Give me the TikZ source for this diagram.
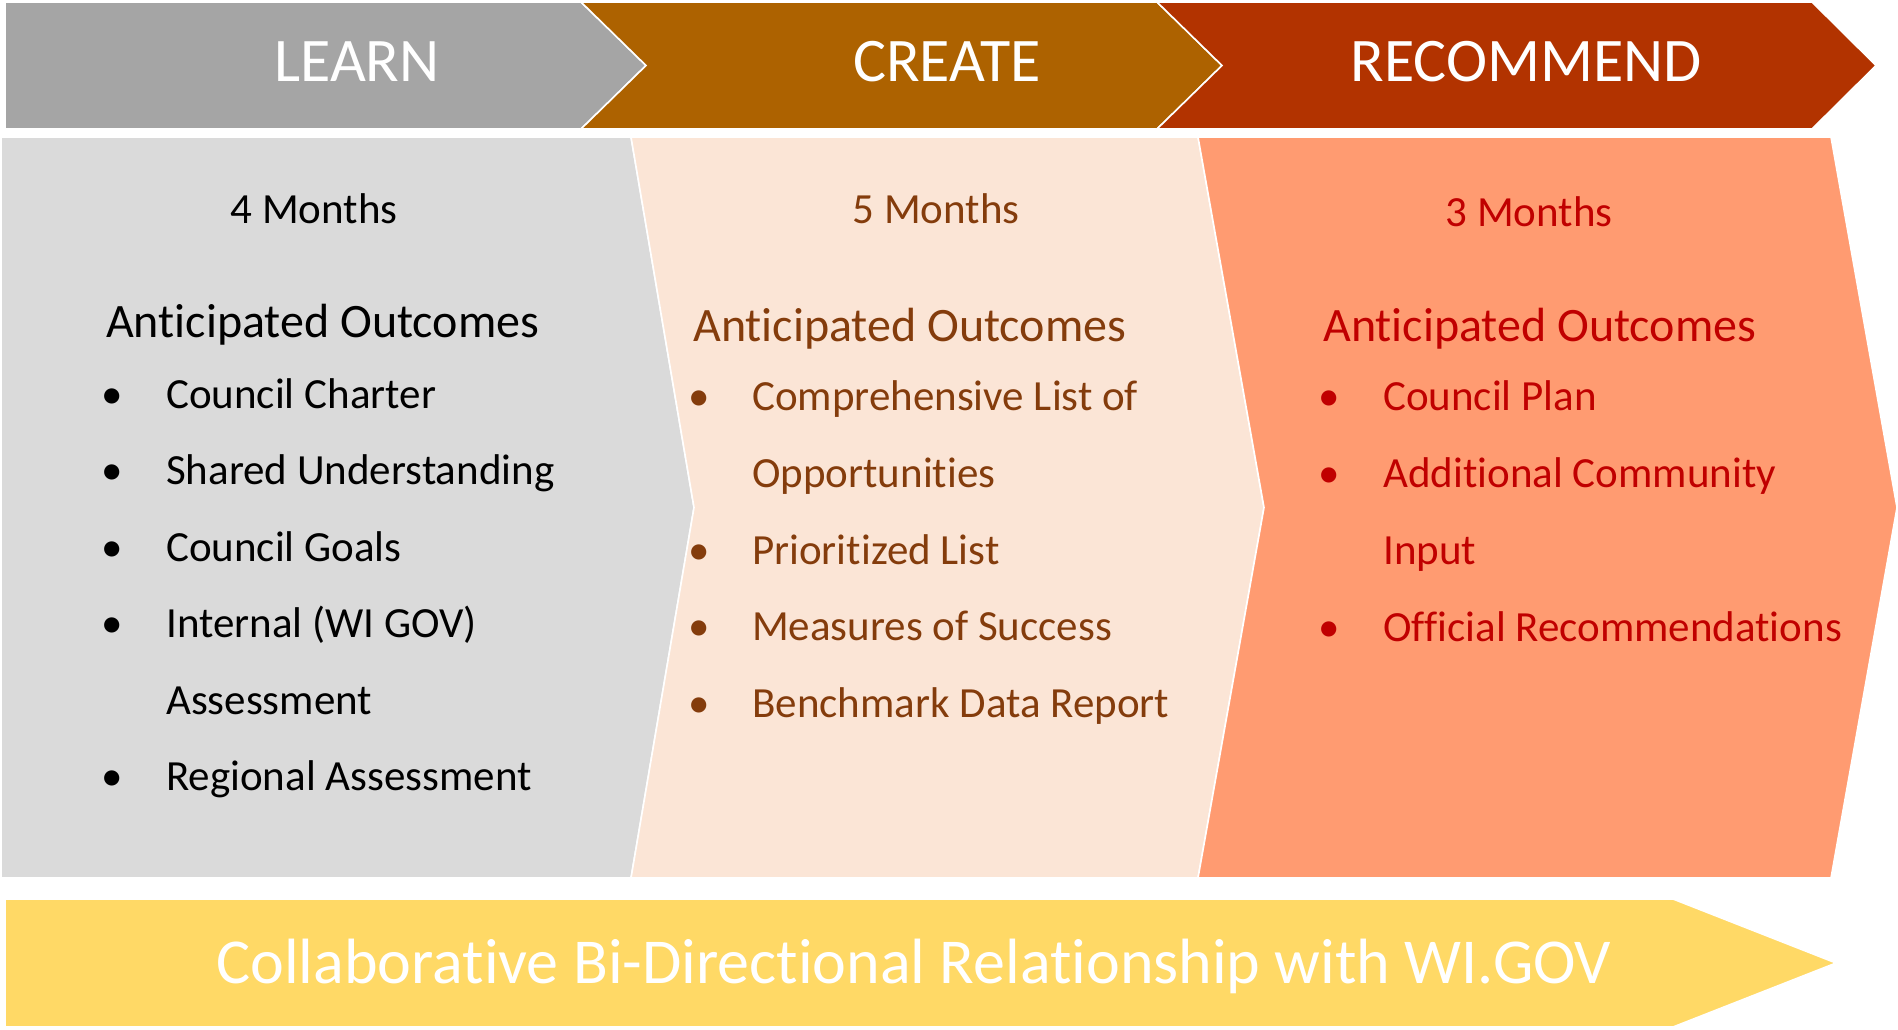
\documentclass[tikz,border=0pt]{standalone}
\usepackage{fontspec}
\setmainfont{Carlito}[RawFeature={-liga;-dlig;-clig}]
\definecolor{learnbar}{HTML}{A5A5A5}
\definecolor{createbar}{HTML}{AD6200}
\definecolor{recbar}{HTML}{B23300}
\definecolor{learnpanel}{HTML}{DADADA}
\definecolor{createpanel}{HTML}{FBE5D6}
\definecolor{recpanel}{HTML}{FF9B71}
\definecolor{goldbar}{HTML}{FFD966}
\definecolor{createtext}{HTML}{843C0C}
\definecolor{rectext}{HTML}{C00000}
\tikzset{
  shapeedge/.style={draw=white, line width=1.6pt, line join=miter},
  bartext/.style={inner sep=0pt, anchor=base, text=white, font=\fontsize{62}{62}\selectfont},
  monthtext/.style={inner sep=0pt, anchor=base, font=\fontsize{43}{43}\selectfont},
  headtext/.style={inner sep=0pt, anchor=base west, font=\fontsize{48}{48}\selectfont},
  itemtext/.style={inner sep=0pt, anchor=base west, font=\fontsize{43}{43}\selectfont},
  bullettext/.style={inner sep=0pt, anchor=base, font=\fontsize{43}{43}\selectfont},
  goldtext/.style={inner sep=0pt, anchor=base, text=white, font=\fontsize{64}{64}\selectfont}
}
\begin{document}
\begin{tikzpicture}[x=1pt,y=-1pt]
\useasboundingbox (0,0) rectangle (1898,1029);
\fill[white] (0,0) rectangle (1898,1029);
% top banner chevrons
\filldraw[fill=learnbar, shapeedge] (5,2) -- (581,2) -- (646,65.5) -- (581,129) -- (5,129) -- cycle;
\filldraw[fill=createbar, shapeedge] (581,2) -- (1157,2) -- (1222,65.5) -- (1157,129) -- (581,129) -- (646,65.5) -- cycle;
\filldraw[fill=recbar, shapeedge] (1157,2) -- (1812,2) -- (1876,65.5) -- (1812,129) -- (1157,129) -- (1222,65.5) -- cycle;
% panels
\filldraw[fill=learnpanel, shapeedge] (1,137) -- (631,137) -- (694,507.5) -- (631,878) -- (1,878) -- cycle;
\filldraw[fill=createpanel, shapeedge] (631,137) -- (1198,137) -- (1264,507.5) -- (1198,878) -- (631,878) -- (694,507.5) -- cycle;
\filldraw[fill=recpanel, shapeedge] (1198,137) -- (1831,137) -- (1897,507.5) -- (1831,878) -- (1198,878) -- (1264,507.5) -- cycle;
% bottom arrow
\filldraw[fill=goldbar, shapeedge] (5,899) -- (1673,899) -- (1836,963) -- (1673,1027) -- (5,1027) -- cycle;

% banner labels
\node[bartext] (learn) at (357,81) {LEARN};
\node[bartext] (create) at (947,81) {CREATE};
\node[bartext] (recommend) at (1526,81) {RECOMMEND};

% LEARN panel
\node[monthtext] (m1) at (314,223) {4 Months};
\node[headtext] (h1) at (106,337) {Anticipated Outcomes};
\node[bullettext] (b11) at (112,408) {•};
\node[itemtext] (i11) at (166,408) {Council Charter};
\node[bullettext] (b12) at (112,484.5) {•};
\node[itemtext] (i12) at (166,484.5) {Shared Understanding};
\node[bullettext] (b13) at (112,561) {•};
\node[itemtext] (i13) at (166,561) {Council Goals};
\node[bullettext] (b14) at (112,637.5) {•};
\node[itemtext] (i14) at (166,637.5) {Internal (WI GOV)};
\node[itemtext] (i14b) at (166,714) {Assessment};
\node[bullettext] (b15) at (112,790.5) {•};
\node[itemtext] (i15) at (166,790.5) {Regional Assessment};

% CREATE panel
\node[monthtext, text=createtext] (m2) at (936,223) {5 Months};
\node[headtext, text=createtext] (h2) at (693,341) {Anticipated Outcomes};
\node[bullettext, text=createtext] (b21) at (699,410) {•};
\node[itemtext, text=createtext] (i21) at (752,410) {Comprehensive List of};
\node[itemtext, text=createtext] (i21b) at (752,487) {Opportunities};
\node[bullettext, text=createtext] (b22) at (699,564) {•};
\node[itemtext, text=createtext] (i22) at (752,564) {Prioritized List};
\node[bullettext, text=createtext] (b23) at (699,640.5) {•};
\node[itemtext, text=createtext] (i23) at (752,640.5) {Measures of Success};
\node[bullettext, text=createtext] (b24) at (699,717) {•};
\node[itemtext, text=createtext] (i24) at (752,717) {Benchmark Data Report};

% RECOMMEND panel
\node[monthtext, text=rectext] (m3) at (1529,226) {3 Months};
\node[headtext, text=rectext] (h3) at (1323,341) {Anticipated Outcomes};
\node[bullettext, text=rectext] (b31) at (1329,410.5) {•};
\node[itemtext, text=rectext] (i31) at (1383,410.5) {Council Plan};
\node[bullettext, text=rectext] (b32) at (1329,487) {•};
\node[itemtext, text=rectext] (i32) at (1383,487) {Additional Community};
\node[itemtext, text=rectext] (i32b) at (1383,564) {Input};
\node[bullettext, text=rectext] (b33) at (1329,641) {•};
\node[itemtext, text=rectext] (i33) at (1383,641) {Official Recommendations};

% bottom label
\node[goldtext] (collab) at (914,983) {Collaborative Bi-Directional Relationship with WI.GOV};
\end{tikzpicture}
\end{document}
